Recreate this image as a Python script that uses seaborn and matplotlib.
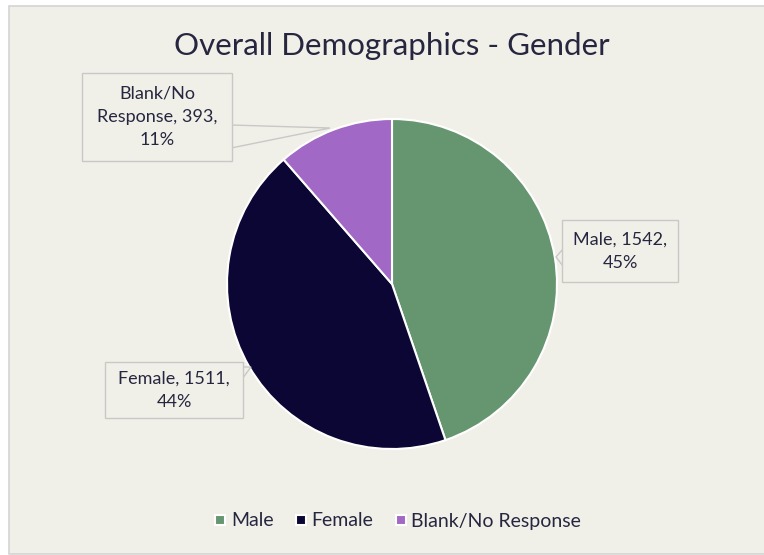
import matplotlib
matplotlib.use("Agg")
import matplotlib.pyplot as plt
from matplotlib.patches import Rectangle, Polygon
from matplotlib.lines import Line2D
import seaborn as sns

# ==========================
# Dados
# ==========================
categories = ["Male", "Female", "Blank/No Response"]
counts = [1542, 1511, 393]
label_texts = ["Male, 1542,\n45%", "Female, 1511,\n44%", "Blank/No\nResponse, 393,\n11%"]
colors = sns.color_palette(["#669670", "#0b0634", "#a169c5"])

sns.set_style("white")
plt.rcParams["font.family"] = ["Lato", "DejaVu Sans"]

BG = "#f1f0e8"
TXT = "#262640"

fig = plt.figure(figsize=(7.64, 5.55), dpi=100)
fig.patch.set_facecolor("white")
ax = fig.add_axes([0, 0, 1, 1])

# fundo do grafico
ax.add_patch(Rectangle((8.5, 1.5), 770, 548, facecolor=BG, edgecolor="#d4d4d4", lw=1.2, zorder=0))

ax.pie(counts, colors=colors, startangle=90, counterclock=False,
       center=(392, 271), radius=165, frame=True,
       wedgeprops=dict(edgecolor="white", linewidth=1.5))
ax.set_xlim(0, 764)
ax.set_ylim(0, 555)
ax.set_aspect("equal")
ax.axis("off")

ax.text(392, 509, "Overall Demographics - Gender", ha="center", va="center",
        fontsize=22.5, color=TXT)

# ==========================
# Rotulos (callouts)
# ==========================
box_style = dict(facecolor=BG, edgecolor="#c8c8c8", lw=1)
lab_kw = dict(ha="center", va="center", fontsize=13, color=TXT, linespacing=1.55, zorder=5)

# Blank/No Response
ax.add_patch(Polygon([(231, 430), (330, 427), (231, 407)], closed=True,
                     facecolor=BG, edgecolor="#c8c8c8", lw=1, zorder=3))
ax.add_patch(Rectangle((82, 394), 150, 88, zorder=4, **box_style))
ax.text(157, 438, label_texts[2], **lab_kw)

# Male
ax.add_patch(Polygon([(563, 306), (556, 298), (563, 289)], closed=True,
                     facecolor=BG, edgecolor="#c8c8c8", lw=1, zorder=3))
ax.add_patch(Rectangle((562, 273), 116, 62, zorder=4, **box_style))
ax.text(620, 304, label_texts[0], **lab_kw)

# Female
ax.add_patch(Polygon([(242, 188), (251, 188), (242, 176)], closed=True,
                     facecolor=BG, edgecolor="#c8c8c8", lw=1, zorder=3))
ax.add_patch(Rectangle((105, 137), 138, 56, zorder=4, **box_style))
ax.text(174, 165, label_texts[1], **lab_kw)

# ==========================
# Legenda
# ==========================
handles = [Line2D([0], [0], marker="s", linestyle="", markersize=7,
                  markerfacecolor=c, markeredgecolor="white", markeredgewidth=1.5)
           for c in colors]
fig.legend(handles, categories, loc="center", bbox_to_anchor=(397 / 764, 34 / 555),
           ncol=3, frameon=False, fontsize=14, handlelength=0.8, handletextpad=0.15,
           columnspacing=1.0, labelcolor=TXT)

fig.savefig("out.png", dpi=100, facecolor="white")
